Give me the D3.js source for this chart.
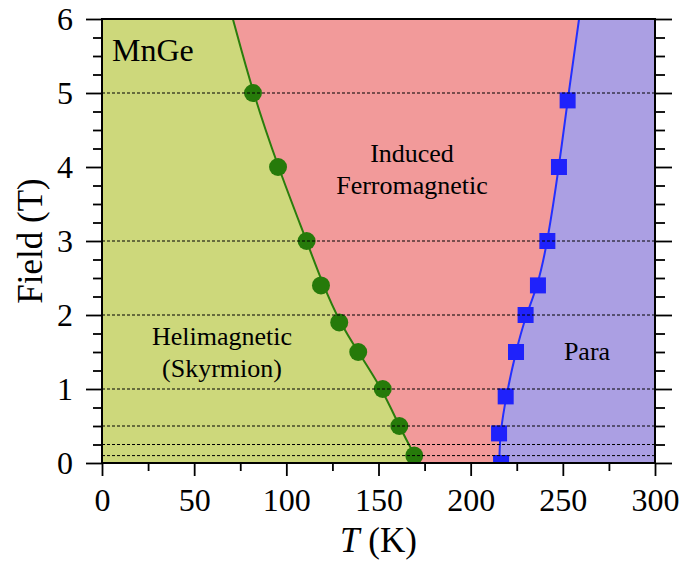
<!DOCTYPE html>
<html>
<head>
<meta charset="utf-8">
<script src="https://cdn.jsdelivr.net/npm/d3@7"></script>
<style>
  body { margin: 0; background: #fff; }
  text { font-family: "Liberation Serif", "DejaVu Serif", serif; fill: #000; }
</style>
</head>
<body>
<div class="visHolder"></div>
<script>
// measured points (T in K, field in T)
var helixT = [81.9, 95.5, 111, 118.8, 128.7, 139, 152.3, 161.3, 169.4];
var helixH = [5, 4, 3, 2.4, 1.9, 1.5, 1.0, 0.5, 0.1];
var paraT = [252.6, 247.9, 241.6, 236.5, 229.8, 224.6, 219.0, 215.4, 216.5];
var paraH = [4.9, 4.0, 3.0, 2.4, 2.0, 1.5, 0.9, 0.4, 0];

// phase boundary fits
var helixFitT = [71, 81.9, 95.5, 111, 120, 129, 139, 152, 161.2, 169.6, 172];
var helixFitH = [6, 5, 4, 3, 2.4, 1.9, 1.5, 1, 0.5, 0.1, 0];
var paraFitT = [258.8, 252.6, 247.9, 241.8, 236.5, 230, 224.4, 219.2, 216, 215.6, 215.6];
var paraFitH = [6, 4.9, 4, 3, 2.4, 2, 1.5, 0.9, 0.4, 0.1, 0];

// fields where measurements were taken
var scanFields = [5, 3, 2, 1, 0.5, 0.25, 0.1];

var xTicks = [0, 50, 100, 150, 200, 250, 300];
var xMinor = [25, 75, 125, 175, 225, 275];
var yTicks = [0, 1, 2, 3, 4, 5, 6];
var yMinor = d3.range(0, 6.01, 0.25).filter(function (v) { return v % 1 !== 0; });

var margin = { top: 19, right: 31, bottom: 99, left: 102 },
    width = 686,
    height = 562,
    plotW = width - margin.left - margin.right,
    plotH = height - margin.top - margin.bottom;

var svg = d3.select(".visHolder")
    .append("svg")
    .attr("width", width)
    .attr("height", height);

var g = svg.append("g")
    .attr("transform", "translate(" + margin.left + "," + margin.top + ")");

var x = d3.scaleLinear().domain([0, 300]).range([0, plotW]);
var y = d3.scaleLinear().domain([0, 6]).range([plotH, 0]);

svg.append("defs").append("clipPath")
    .attr("id", "plotClip")
    .append("rect")
    .attr("width", plotW)
    .attr("height", plotH);

function pts(ts, hs) {
    return ts.map(function (t, i) { return { t: t, h: hs[i] }; });
}
var helixFit = pts(helixFitT, helixFitH);
var paraFit = pts(paraFitT, paraFitH);

// regions
g.append("rect")
    .attr("width", plotW)
    .attr("height", plotH)
    .style("fill", "#ab9fe3");

var fillArea = d3.area()
    .curve(d3.curveBasis)
    .y(function (d) { return y(d.h); })
    .x0(x(0))
    .x1(function (d) { return x(d.t); });

g.append("path").attr("d", fillArea(paraFit)).style("fill", "#f29a9a");
g.append("path").attr("d", fillArea(helixFit)).style("fill", "#cdd87b");

var fitLine = d3.line()
    .curve(d3.curveBasis)
    .x(function (d) { return x(d.t); })
    .y(function (d) { return y(d.h); });

g.append("path").attr("d", fitLine(helixFit))
    .style("fill", "none").style("stroke", "#2a7d0c").style("stroke-width", 2);
g.append("path").attr("d", fitLine(paraFit))
    .style("fill", "none").style("stroke", "#2330ff").style("stroke-width", 2);

var marks = g.append("g").attr("clip-path", "url(#plotClip)");

marks.selectAll("circle")
    .data(pts(helixT, helixH))
    .enter()
    .append("circle")
    .attr("cx", function (d) { return x(d.t); })
    .attr("cy", function (d) { return y(d.h); })
    .attr("r", 9)
    .style("fill", "#267a0a");

marks.selectAll("rect")
    .data(pts(paraT, paraH))
    .enter()
    .append("rect")
    .attr("x", function (d) { return x(d.t) - 8; })
    .attr("y", function (d) { return y(d.h) - 8; })
    .attr("width", 16)
    .attr("height", 16)
    .style("fill", "#1f22fb");

// dashed scan lines
g.selectAll(".scan")
    .data(scanFields)
    .enter()
    .append("line")
    .attr("class", "scan")
    .attr("x1", 0)
    .attr("x2", plotW)
    .attr("y1", function (d) { return y(d); })
    .attr("y2", function (d) { return y(d); })
    .style("stroke", "#000")
    .style("stroke-width", 1)
    .style("stroke-dasharray", "3,2");

// axes
function styleAxis(sel, labels) {
    sel.select(".domain").remove();
    sel.selectAll("line").style("stroke", "#000").style("stroke-width", 1.8);
    sel.selectAll("text").style("font-size", "32px")
        .style("font-family", "'Liberation Serif', serif");
    if (!labels) sel.selectAll("text").remove();
}

var fmt = d3.format("d");

var bottomMajor = g.append("g").attr("transform", "translate(0," + plotH + ")")
    .call(d3.axisBottom(x).tickValues(xTicks).tickFormat(fmt).tickSize(13).tickPadding(12));
styleAxis(bottomMajor, true);
bottomMajor.selectAll("text").attr("dy", "0.72em");
var bottomMinor = g.append("g").attr("transform", "translate(0," + plotH + ")")
    .call(d3.axisBottom(x).tickValues(xMinor).tickSize(8));
styleAxis(bottomMinor, false);

var leftMajor = g.append("g")
    .call(d3.axisLeft(y).tickValues(yTicks).tickFormat(fmt).tickSize(16).tickPadding(13));
styleAxis(leftMajor, true);
var leftMinor = g.append("g")
    .call(d3.axisLeft(y).tickValues(yMinor).tickSize(9));
styleAxis(leftMinor, false);

var rightMajor = g.append("g").attr("transform", "translate(" + plotW + ",0)")
    .call(d3.axisRight(y).tickValues(yTicks).tickSize(17));
styleAxis(rightMajor, false);
var rightMinor = g.append("g").attr("transform", "translate(" + plotW + ",0)")
    .call(d3.axisRight(y).tickValues(yMinor).tickSize(10));
styleAxis(rightMinor, false);

g.append("rect")
    .attr("width", plotW)
    .attr("height", plotH)
    .style("fill", "none")
    .style("stroke", "#000")
    .style("stroke-width", 2);

// axis titles
var xTitle = svg.append("text")
    .attr("x", margin.left + plotW / 2)
    .attr("y", 552)
    .attr("text-anchor", "middle")
    .style("font-size", "35px");
xTitle.append("tspan").style("font-style", "italic").text("T");
xTitle.append("tspan").text(" (K)");

svg.append("text")
    .attr("transform", "translate(42," + (margin.top + plotH / 2) + ") rotate(-90)")
    .attr("text-anchor", "middle")
    .style("font-size", "35px")
    .text("Field (T)");

// phase labels
svg.append("text").attr("x", 112).attr("y", 61)
    .style("font-size", "32px").text("MnGe");

function label(lines, cx, y0) {
    lines.forEach(function (s, i) {
        svg.append("text")
            .attr("x", cx)
            .attr("y", y0 + i * 31.5)
            .attr("text-anchor", "middle")
            .style("font-size", "26px")
            .text(s);
    });
}
label(["Induced", "Ferromagnetic"], 412, 162);
label(["Helimagnetic", "(Skyrmion)"], 222, 345);
label(["Para"], 587, 360);
</script>
</body>
</html>
